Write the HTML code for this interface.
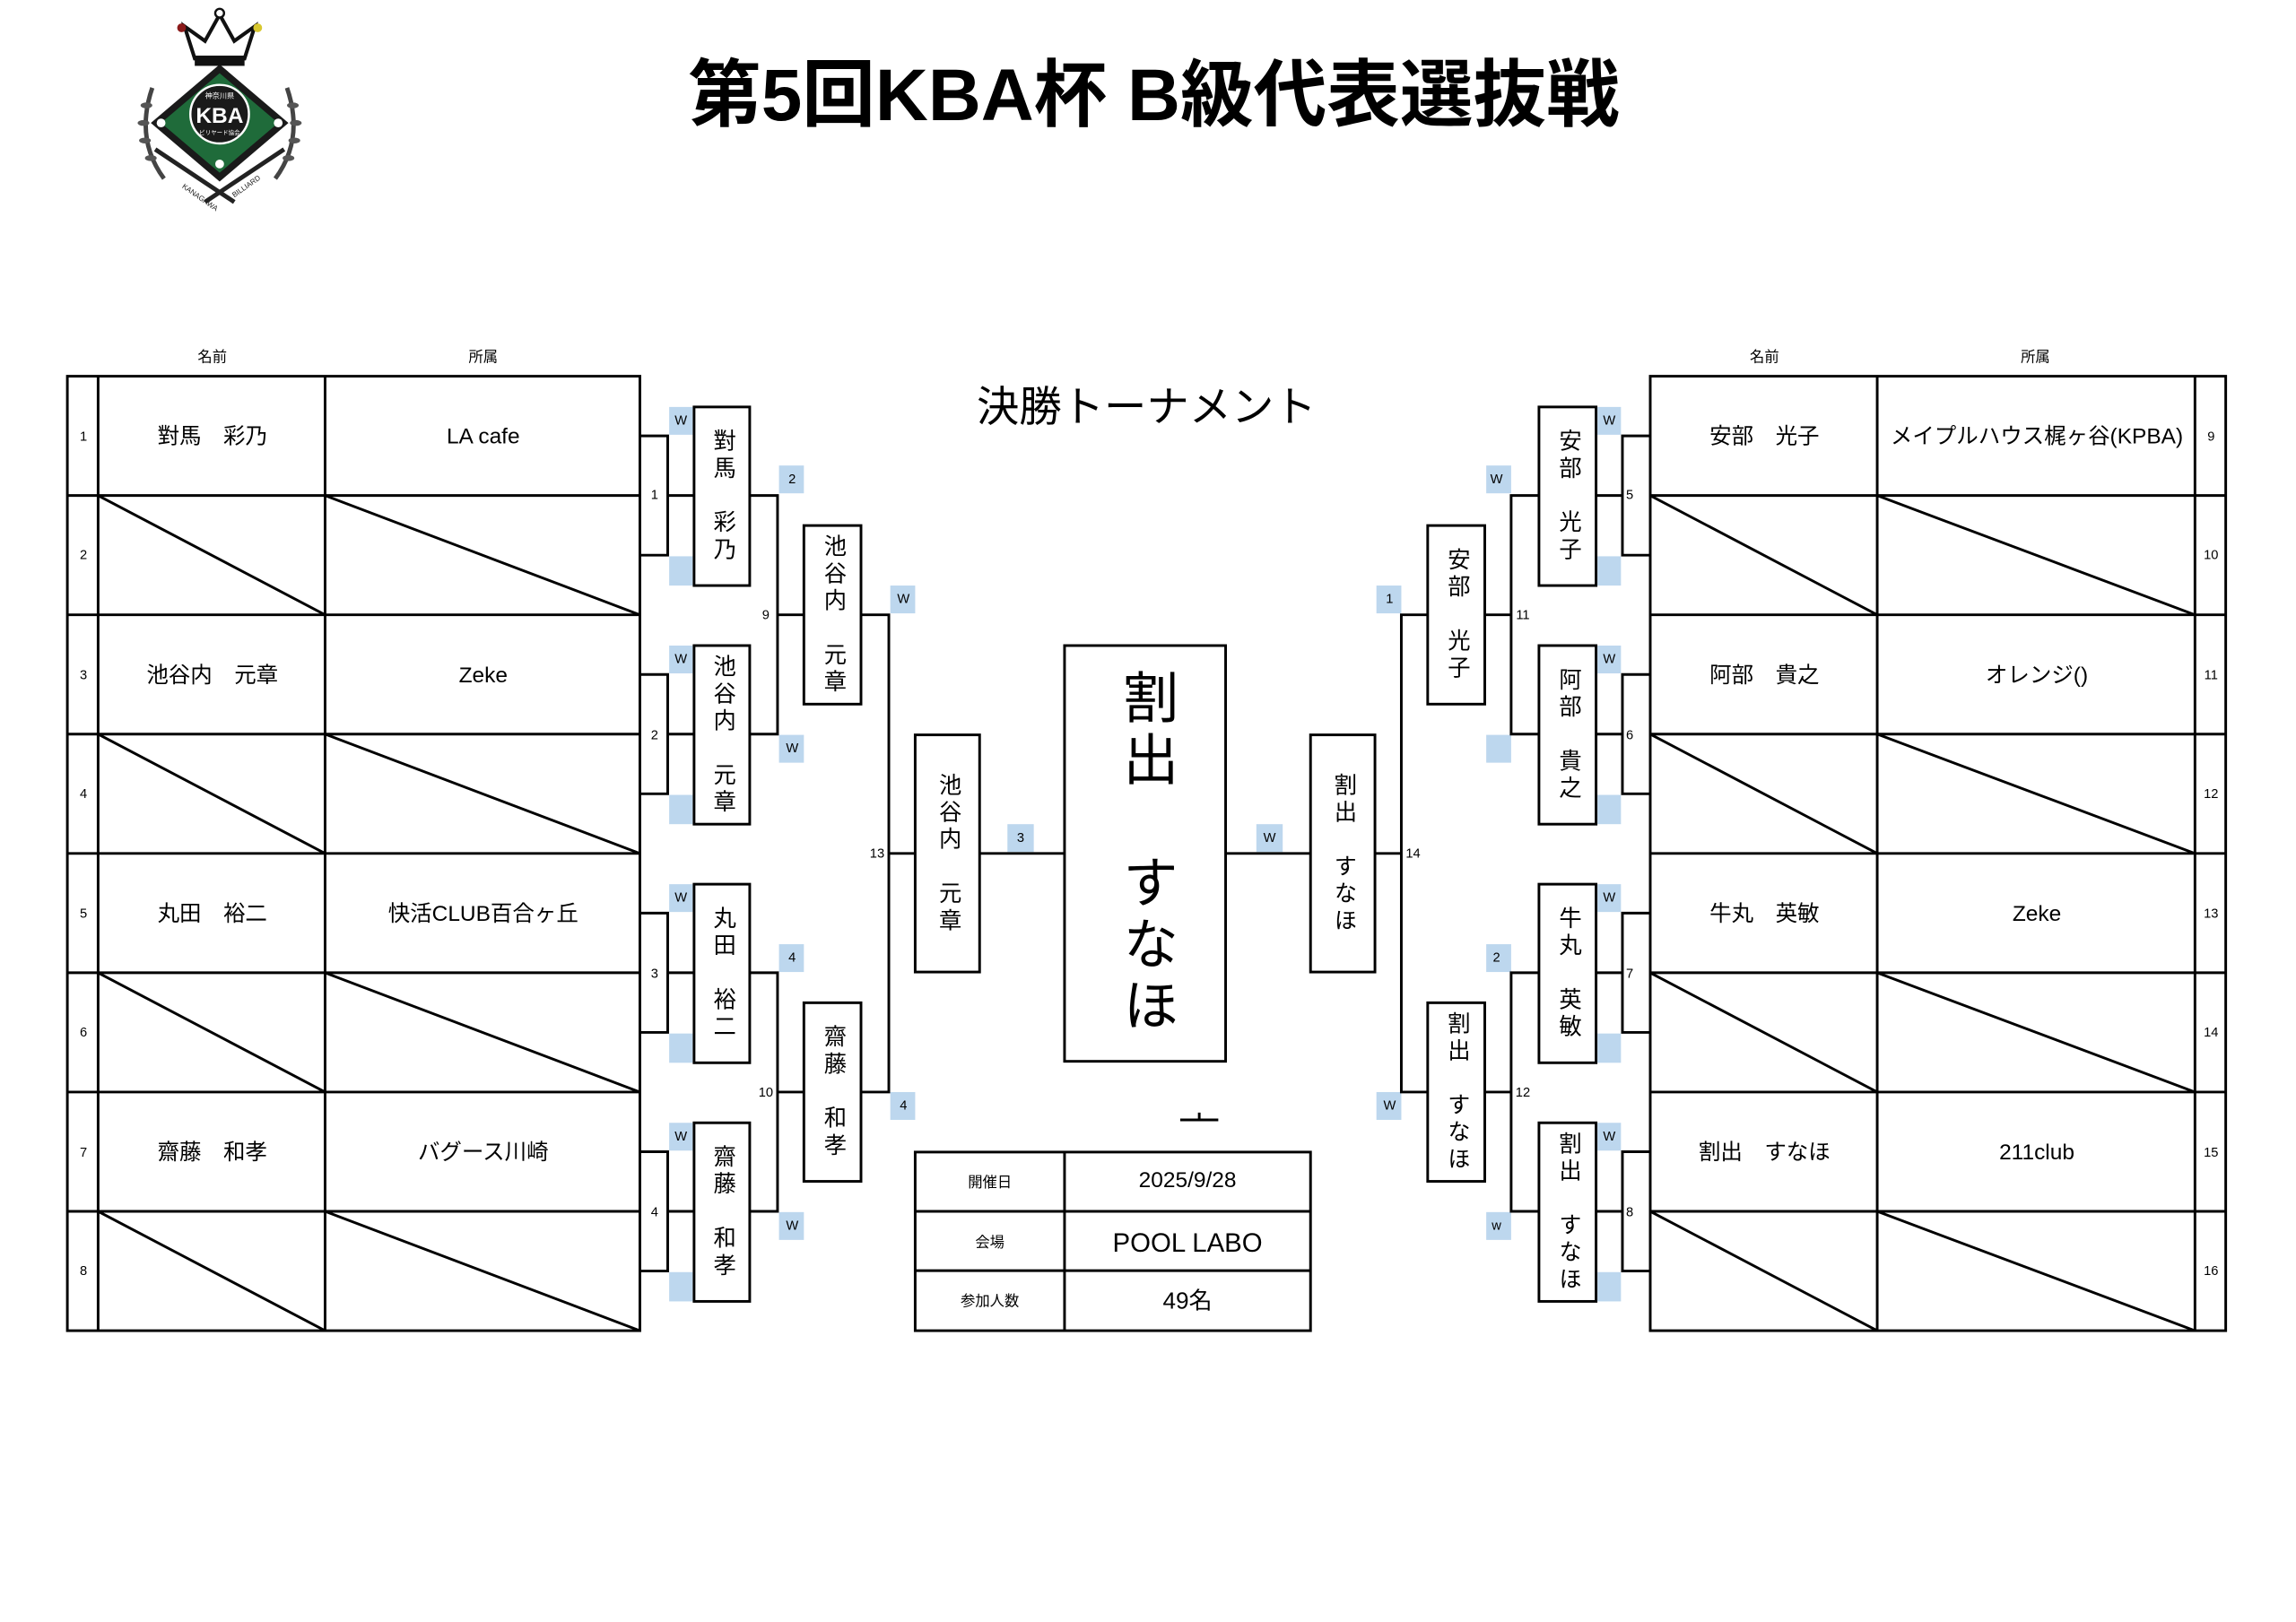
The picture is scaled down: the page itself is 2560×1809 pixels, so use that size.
<!DOCTYPE html>
<html><head><meta charset="utf-8">
<style>
html,body{margin:0;padding:0;background:#fff;width:2560px;height:1809px;overflow:hidden}
#s{position:absolute;left:0;top:0;width:1568px;height:1108px;transform:scale(1.632653);transform-origin:0 0;font-family:"Liberation Sans","Noto Sans CJK JP",sans-serif}
svg{position:absolute;left:0;top:0}
.v{position:absolute;display:flex;align-items:center;justify-content:center;writing-mode:vertical-rl;font-family:"Liberation Sans","Noto Sans CJK JP",sans-serif;color:#000;white-space:nowrap}
.n{font-size:15.5px;letter-spacing:3px}
</style></head><body>
<div id="s">
<svg width="1568" height="1108" viewBox="0 0 1568 1108" font-family="Liberation Sans, Noto Sans CJK JP, sans-serif">
<!-- logo -->
<g>
<path d="M104 60 Q92 95 112 122 M196 60 Q208 95 188 122" stroke="#444" stroke-width="3" fill="none"/>
<g fill="#555"><ellipse cx="100" cy="72" rx="4" ry="2"/><ellipse cx="98" cy="84" rx="4" ry="2"/><ellipse cx="99" cy="96" rx="4" ry="2"/><ellipse cx="103" cy="108" rx="4" ry="2"/><ellipse cx="200" cy="72" rx="4" ry="2"/><ellipse cx="202" cy="84" rx="4" ry="2"/><ellipse cx="201" cy="96" rx="4" ry="2"/><ellipse cx="197" cy="108" rx="4" ry="2"/></g>
<line x1="106" y1="102" x2="160" y2="138" stroke="#222" stroke-width="3"/><line x1="194" y1="102" x2="140" y2="138" stroke="#222" stroke-width="3"/>
<polygon points="150,44 197,84 150,124 103,84" fill="#1a1a1a"/>
<polygon points="150,50 190,84 150,118 110,84" fill="#1f6b3a"/>
<circle cx="150" cy="78" r="20" fill="#1a1a1a" stroke="#fff" stroke-width="1.5"/>
<text x="150" y="84" font-size="15" font-weight="bold" fill="#fff" text-anchor="middle">KBA</text>
<text x="150" y="67" font-size="5" fill="#fff" text-anchor="middle">神奈川県</text>
<text x="150" y="92" font-size="4" fill="#fff" text-anchor="middle">ビリヤード協会</text>
<circle cx="150" cy="112" r="3" fill="#fff"/><circle cx="110" cy="84" r="3" fill="#fff"/><circle cx="190" cy="84" r="3" fill="#fff"/>
<path d="M133 40 L126 18 L140 28 L150 10 L160 28 L174 18 L167 40 Z" fill="none" stroke="#111" stroke-width="2.5"/>
<rect x="133" y="38" width="34" height="7" fill="#111"/>
<circle cx="150" cy="9" r="3" fill="#fff" stroke="#111" stroke-width="1.5"/>
<circle cx="124" cy="19" r="3" fill="#8b1a1a"/><circle cx="176" cy="19" r="3" fill="#d8c830"/>
<text x="124" y="128" font-size="5" fill="#222" transform="rotate(35 124 128)">KANAGAWA</text>
<text x="160" y="135" font-size="5" fill="#222" transform="rotate(-35 160 135)">BILLIARD</text>
</g>
<text x="788" y="82" font-size="50" font-weight="bold" text-anchor="middle">第5回KBA杯 B級代表選抜戦</text>
<text x="783" y="288" font-size="29" text-anchor="middle">決勝トーナメント</text>
<g font-size="10" text-anchor="middle"><text x="145" y="247">名前</text><text x="330" y="247">所属</text><text x="1205" y="247">名前</text><text x="1390" y="247">所属</text></g>

<!-- blue boxes -->
<g fill="#bdd7ee">
<rect x="457" y="278" width="16" height="19"/><rect x="457" y="380" width="16" height="20"/>
<rect x="457" y="441" width="16" height="19"/><rect x="457" y="543" width="16" height="20"/>
<rect x="457" y="604" width="16" height="19"/><rect x="457" y="706" width="16" height="20"/>
<rect x="457" y="767" width="16" height="19"/><rect x="457" y="869" width="16" height="20"/>
<rect x="532" y="318" width="17" height="19"/><rect x="532" y="502" width="17" height="19"/>
<rect x="532" y="645" width="17" height="19"/><rect x="532" y="828" width="17" height="19"/>
<rect x="608" y="400" width="17" height="19"/><rect x="608" y="746" width="17" height="19"/>
<rect x="688" y="563" width="18" height="19"/><rect x="858" y="563" width="18" height="19"/>
<rect x="940" y="400" width="17" height="19"/><rect x="940" y="746" width="17" height="19"/>
<rect x="1015" y="318" width="17" height="19"/><rect x="1015" y="502" width="17" height="19"/>
<rect x="1015" y="645" width="17" height="19"/><rect x="1015" y="828" width="17" height="19"/>
<rect x="1091" y="278" width="16" height="19"/><rect x="1091" y="380" width="16" height="20"/>
<rect x="1091" y="441" width="16" height="19"/><rect x="1091" y="543" width="16" height="20"/>
<rect x="1091" y="604" width="16" height="19"/><rect x="1091" y="706" width="16" height="20"/>
<rect x="1091" y="767" width="16" height="19"/><rect x="1091" y="869" width="16" height="20"/>
</g>
<g font-size="9" text-anchor="middle">
<text x="465" y="290">W</text><text x="465" y="453">W</text><text x="465" y="616">W</text><text x="465" y="779">W</text>
<text x="541" y="330">2</text><text x="541" y="514">W</text><text x="541" y="657">4</text><text x="541" y="840">W</text>
<text x="617" y="412">W</text><text x="617" y="758">4</text><text x="697" y="575">3</text><text x="867" y="575">W</text>
<text x="949" y="412">1</text><text x="949" y="758">W</text>
<text x="1022" y="330">W</text><text x="1022" y="657">2</text><text x="1022" y="840">w</text>
<text x="1099" y="290">W</text><text x="1099" y="453">W</text><text x="1099" y="616">W</text><text x="1099" y="779">W</text>
<text x="447" y="341">1</text><text x="447" y="505">2</text><text x="447" y="668">3</text><text x="447" y="831">4</text>
<text x="523" y="423">9</text><text x="523" y="749">10</text><text x="599" y="586">13</text>
<text x="965" y="586">14</text><text x="1040" y="423">11</text><text x="1040" y="749">12</text>
<text x="1113" y="341">5</text><text x="1113" y="505">6</text><text x="1113" y="668">7</text><text x="1113" y="831">8</text>
</g>

<g stroke="#000" stroke-width="1.8" fill="none">
<rect x="46" y="257" width="391" height="652"/>
<line x1="67" y1="257" x2="67" y2="909"/><line x1="222" y1="257" x2="222" y2="909"/>
<line x1="46" y1="338.5" x2="437" y2="338.5"/><line x1="46" y1="420" x2="437" y2="420"/><line x1="46" y1="501.5" x2="437" y2="501.5"/><line x1="46" y1="583" x2="437" y2="583"/><line x1="46" y1="664.5" x2="437" y2="664.5"/><line x1="46" y1="746" x2="437" y2="746"/><line x1="46" y1="827.5" x2="437" y2="827.5"/>
<line x1="67" y1="338.5" x2="222" y2="420"/><line x1="222" y1="338.5" x2="437" y2="420"/>
<line x1="67" y1="501.5" x2="222" y2="583"/><line x1="222" y1="501.5" x2="437" y2="583"/>
<line x1="67" y1="664.5" x2="222" y2="746"/><line x1="222" y1="664.5" x2="437" y2="746"/>
<line x1="67" y1="827.5" x2="222" y2="909"/><line x1="222" y1="827.5" x2="437" y2="909"/>
<rect x="1127" y="257" width="393" height="652"/>
<line x1="1282" y1="257" x2="1282" y2="909"/><line x1="1499" y1="257" x2="1499" y2="909"/>
<line x1="1127" y1="338.5" x2="1520" y2="338.5"/><line x1="1127" y1="420" x2="1520" y2="420"/><line x1="1127" y1="501.5" x2="1520" y2="501.5"/><line x1="1127" y1="583" x2="1520" y2="583"/><line x1="1127" y1="664.5" x2="1520" y2="664.5"/><line x1="1127" y1="746" x2="1520" y2="746"/><line x1="1127" y1="827.5" x2="1520" y2="827.5"/>
<line x1="1127" y1="338.5" x2="1282" y2="420"/><line x1="1282" y1="338.5" x2="1499" y2="420"/>
<line x1="1127" y1="501.5" x2="1282" y2="583"/><line x1="1282" y1="501.5" x2="1499" y2="583"/>
<line x1="1127" y1="664.5" x2="1282" y2="746"/><line x1="1282" y1="664.5" x2="1499" y2="746"/>
<line x1="1127" y1="827.5" x2="1282" y2="909"/><line x1="1282" y1="827.5" x2="1499" y2="909"/>
<path d="M437 297.75H456V379.25H437M456 338.5H474"/>
<path d="M437 460.75H456V542.25H437M456 501.5H474"/>
<path d="M437 623.75H456V705.25H437M456 664.5H474"/>
<path d="M437 786.75H456V868.25H437M456 827.5H474"/>
<rect x="474" y="278" width="38" height="122"/><rect x="474" y="441" width="38" height="122"/><rect x="474" y="604" width="38" height="122"/><rect x="474" y="767" width="38" height="122"/>
<path d="M512 338.5H531V501.5H512M531 420H549"/>
<path d="M512 664.5H531V827.5H512M531 746H549"/>
<rect x="549" y="359" width="39" height="122"/><rect x="549" y="685" width="39" height="122"/>
<path d="M588 420H607V746H588M607 583H625"/>
<rect x="625" y="502" width="44" height="162"/>
<line x1="669" y1="583" x2="727" y2="583"/>
<rect x="727" y="441" width="110" height="284"/>
<line x1="837" y1="583" x2="895" y2="583"/>
<rect x="895" y="502" width="44" height="162"/>
<path d="M939 583H957M975 420H957V746H975"/>
<rect x="975" y="359" width="39" height="122"/><rect x="975" y="685" width="39" height="122"/>
<path d="M1014 420H1032M1051 338.5H1032V501.5H1051"/>
<path d="M1014 746H1032M1051 664.5H1032V827.5H1051"/>
<rect x="1051" y="278" width="39" height="122"/><rect x="1051" y="441" width="39" height="122"/><rect x="1051" y="604" width="39" height="122"/><rect x="1051" y="767" width="39" height="122"/>
<path d="M1090 338.5H1108M1127 297.75H1108V379.25H1127"/>
<path d="M1090 501.5H1108M1127 460.75H1108V542.25H1127"/>
<path d="M1090 664.5H1108M1127 623.75H1108V705.25H1127"/>
<path d="M1090 827.5H1108M1127 786.75H1108V868.25H1127"/>
<rect x="625" y="787" width="270" height="122"/>
<line x1="727" y1="787" x2="727" y2="909"/><line x1="625" y1="827.5" x2="895" y2="827.5"/><line x1="625" y1="868" x2="895" y2="868"/>
<path d="M806 765H832M819 760V765"/>
</g>
<g font-size="9" text-anchor="middle">
<text x="57" y="301">1</text><text x="57" y="382">2</text><text x="57" y="464">3</text><text x="57" y="545">4</text><text x="57" y="627">5</text><text x="57" y="708">6</text><text x="57" y="790">7</text><text x="57" y="871">8</text>
<text x="1510" y="301">9</text><text x="1510" y="382">10</text><text x="1510" y="464">11</text><text x="1510" y="545">12</text><text x="1510" y="627">13</text><text x="1510" y="708">14</text><text x="1510" y="790">15</text><text x="1510" y="871">16</text>
</g>
<g font-size="15" text-anchor="middle">
<text x="145" y="303">對馬　彩乃</text><text x="330" y="303">LA cafe</text>
<text x="145" y="466">池谷内　元章</text><text x="330" y="466">Zeke</text>
<text x="145" y="629">丸田　裕二</text><text x="330" y="629">快活CLUB百合ヶ丘</text>
<text x="145" y="792">齋藤　和孝</text><text x="330" y="792">バグース川崎</text>
<text x="1205" y="303">安部　光子</text><text x="1391" y="303">メイプルハウス梶ヶ谷(KPBA)</text>
<text x="1205" y="466">阿部　貴之</text><text x="1391" y="466">オレンジ()</text>
<text x="1205" y="629">牛丸　英敏</text><text x="1391" y="629">Zeke</text>
<text x="1205" y="792">割出　すなほ</text><text x="1391" y="792">211club</text>
</g>
<g text-anchor="middle">
<text x="676" y="811" font-size="10">開催日</text><text x="676" y="852" font-size="10">会場</text><text x="676" y="892" font-size="10">参加人数</text>
<text x="811" y="811" font-size="15">2025/9/28</text><text x="811" y="855" font-size="18">POOL LABO</text><text x="811" y="894" font-size="16">49名</text>
</g>
</svg>
<div class="v n" style="left:474px;top:278px;width:38px;height:122px">對馬　彩乃</div>
<div class="v n" style="left:474px;top:441px;width:38px;height:122px">池谷内　元章</div>
<div class="v n" style="left:474px;top:604px;width:38px;height:122px">丸田　裕二</div>
<div class="v n" style="left:474px;top:767px;width:38px;height:122px">齋藤　和孝</div>
<div class="v n" style="left:549px;top:359px;width:39px;height:122px">池谷内　元章</div>
<div class="v n" style="left:549px;top:685px;width:39px;height:122px">齋藤　和孝</div>
<div class="v n" style="left:625px;top:502px;width:44px;height:162px">池谷内　元章</div>
<div class="v" style="left:727px;top:441px;width:110px;height:284px;font-size:38px;letter-spacing:4px">割出　すなほ</div>
<div class="v n" style="left:895px;top:502px;width:44px;height:162px">割出　すなほ</div>
<div class="v n" style="left:975px;top:359px;width:39px;height:122px">安部　光子</div>
<div class="v n" style="left:975px;top:685px;width:39px;height:122px">割出　すなほ</div>
<div class="v n" style="left:1051px;top:278px;width:39px;height:122px">安部　光子</div>
<div class="v n" style="left:1051px;top:441px;width:39px;height:122px">阿部　貴之</div>
<div class="v n" style="left:1051px;top:604px;width:39px;height:122px">牛丸　英敏</div>
<div class="v n" style="left:1051px;top:767px;width:39px;height:122px">割出　すなほ</div>
</div>
</body></html>
